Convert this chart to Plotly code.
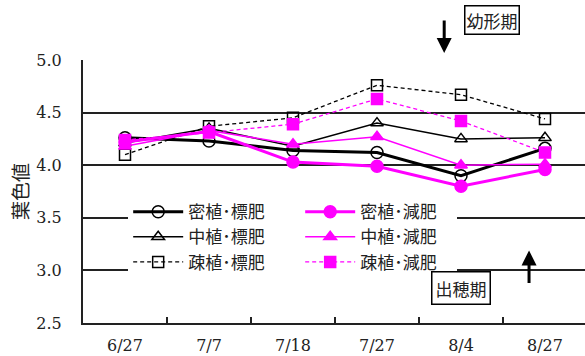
import plotly.graph_objects as go

# Sampling dates (category axis)
dates = ["6/27", "7/7", "7/18", "7/27", "8/4", "8/27"]

# Leaf colour values by planting density and fertilizer level
dense_std = [4.26, 4.23, 4.14, 4.12, 3.90, 4.16]
mid_std = [4.21, 4.35, 4.18, 4.40, 4.25, 4.26]
sparse_std = [4.10, 4.37, 4.45, 4.76, 4.67, 4.44]
dense_red = [4.22, 4.32, 4.03, 3.99, 3.80, 3.96]
mid_red = [4.18, 4.33, 4.20, 4.27, 4.00, 4.01]
sparse_red = [4.24, 4.31, 4.39, 4.63, 4.42, 4.12]

y_ticks = [2.5, 3.0, 3.5, 4.0, 4.5, 5.0]

MAGENTA = "#ff00ff"
BLACK = "#000000"
DASH = "4px,3px"

series = [
    # name, values, colour, width, dash, symbol, legend rank, legend column
    ("密植･標肥", dense_std, BLACK, 3, "solid", "circle-open", 1, 0),
    ("中植･標肥", mid_std, BLACK, 1.5, "solid", "triangle-up-open", 3, 0),
    ("疎植･標肥", sparse_std, BLACK, 1.3, DASH, "square-open", 5, 0),
    ("密植･減肥", dense_red, MAGENTA, 3, "solid", "circle", 2, 1),
    ("中植･減肥", mid_red, MAGENTA, 1.5, "solid", "triangle-up", 4, 1),
    ("疎植･減肥", sparse_red, MAGENTA, 1.3, DASH, "square", 6, 1),
]

fig = go.Figure()
for name, vals, col, w, dash, sym, rank, column in series:
    open_marker = sym.endswith("open")
    fig.add_trace(go.Scatter(
        x=dates, y=vals, name=name, mode="lines+markers",
        line=dict(color=col, width=w, dash=dash),
        marker=dict(symbol=sym, size=12 if "circle" in sym else 11,
                    color=col if not open_marker else BLACK,
                    line=dict(color=col, width=1.5)),
        legendrank=rank,
        legendwidth=107 if column == 0 else 92,
        cliponaxis=False,
    ))

jp_font = "Noto Sans CJK JP"
serif = "DejaVu Serif"

fig.update_layout(
    width=585, height=356,
    margin=dict(l=83, r=0, t=60, b=33),
    paper_bgcolor="white", plot_bgcolor="white",
    showlegend=True,
    legend=dict(
        orientation="h", x=0.09, y=0.49, xanchor="left", yanchor="top",
        bgcolor="white", borderwidth=0,
        entrywidth=107, entrywidthmode="pixels",
        font=dict(family=jp_font, size=17, color="#222"),
        itemwidth=50, tracegroupgap=0,
    ),
    xaxis=dict(
        type="category", range=[-0.5, -0.5 + 502 / 84],
        showline=True, linecolor="#222", linewidth=2,
        ticks="inside", tickson="boundaries", ticklen=6, tickwidth=1.5, tickcolor="#222",
        showgrid=False, ticklabelstandoff=7,
        tickfont=dict(family=serif, size=16, color="#222"),
    ),
    yaxis=dict(
        range=[2.5, 5.0], tickvals=y_ticks, ticktext=[f"{v:.1f}" for v in y_ticks],
        showline=True, linecolor="#222", linewidth=2,
        showgrid=True, gridcolor="#222", gridwidth=1.5,
        zeroline=False, ticks="", ticklabelstandoff=16,
        tickfont=dict(family=serif, size=16, color="#222"),
        title=dict(text="葉色値", font=dict(family=jp_font, size=19, color="#222"), standoff=3),
    ),
)

# Growth-stage markers (paper coordinates above the plot area)
fig.add_annotation(x=3.80, y=1.027, xref="x", yref="paper", ax=0, ay=-34,
                   text="", showarrow=True, arrowhead=2, arrowsize=1, arrowwidth=3,
                   arrowcolor="black")
fig.add_annotation(x=4.37, y=1.152, xref="x", yref="paper", yanchor="middle",
                   text="幼形期",
                   showarrow=False, font=dict(family=jp_font, size=17, color="#222"),
                   bordercolor="black", borderwidth=1.5, borderpad=1, bgcolor="white")
fig.add_annotation(x=4.81, y=3.19, xref="x", yref="y", ax=0, ay=34,
                   text="", showarrow=True, arrowhead=2, arrowsize=1, arrowwidth=3,
                   arrowcolor="black")
fig.add_annotation(x=4.0, y=2.837, xref="x", yref="y", text="出穂期",
                   showarrow=False, font=dict(family=jp_font, size=17, color="#222"),
                   bordercolor="black", borderwidth=1.5, borderpad=3, bgcolor="white")

fig.write_html("out.html")
